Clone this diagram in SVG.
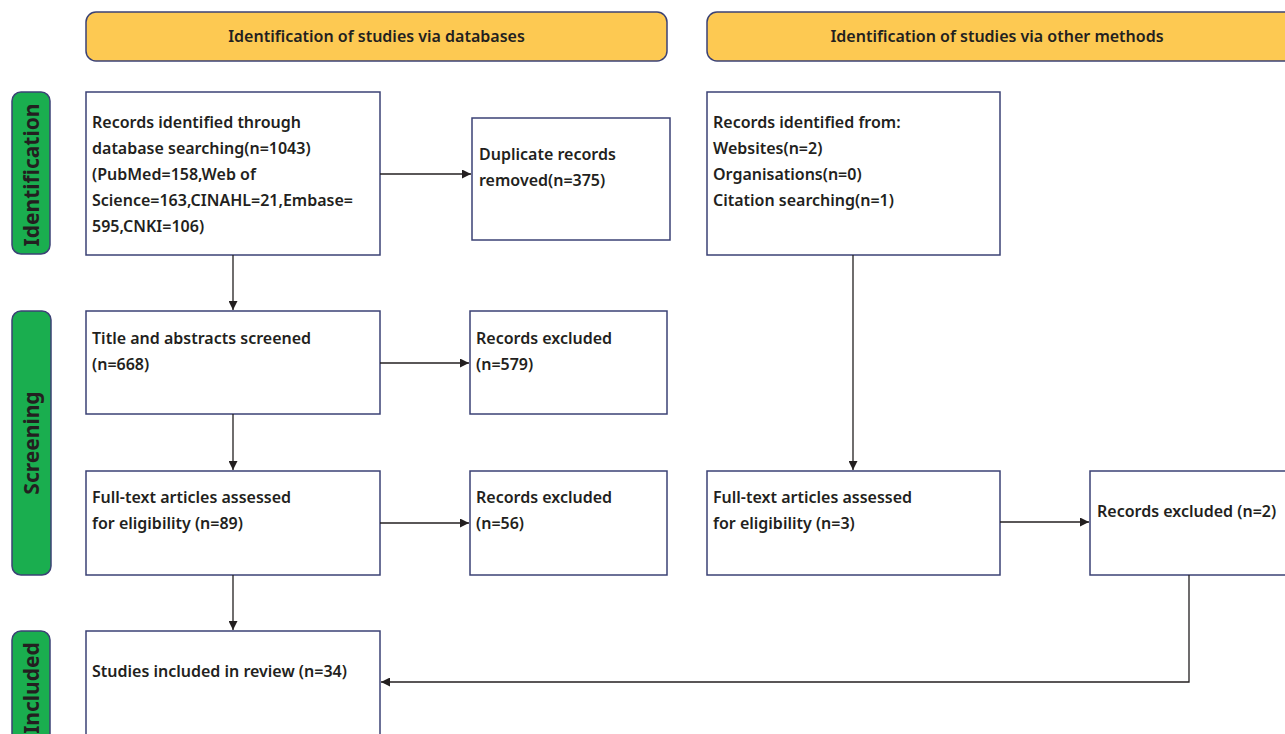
<svg xmlns="http://www.w3.org/2000/svg" width="1285" height="734" viewBox="0 0 1285 734">
<defs>
<marker id="ah" viewBox="0 0 10 10" refX="10" refY="5" markerWidth="9" markerHeight="9" markerUnits="userSpaceOnUse" orient="auto">
<path d="M0,0 L10,5 L0,10 z" fill="#231f20"/>
</marker>
<style>
.box{fill:#fff;stroke:#3b4275;stroke-width:1.5}
.hdr{fill:#fdc952;stroke:#3b4275;stroke-width:1.5}
.side{fill:#1aae4f;stroke:#3b4275;stroke-width:1.5}
.t{font-family:"Noto Sans","Open Sans",sans-serif;font-weight:600;font-size:16px;fill:#231f20}
.h{font-family:"Noto Sans","Open Sans",sans-serif;font-weight:600;font-size:16px;fill:#231f20;text-anchor:middle}
.s{font-family:"Noto Sans","Open Sans",sans-serif;font-weight:700;font-size:21px;fill:#231f20;text-anchor:middle}
.c{fill:none;stroke:#231f20;stroke-width:1.3}
</style>
</defs>
<rect width="1285" height="734" fill="#fff"/>
<g id="hdr-db"><rect class="hdr" x="86" y="12" width="581" height="49" rx="10"/><text class="h" x="376.5" y="42">Identification of studies via databases</text></g>
<g id="hdr-other"><rect class="hdr" x="707" y="12" width="590" height="49" rx="10"/><text class="h" x="997" y="42">Identification of studies via other methods</text></g>
<g id="side-ident"><rect class="side" x="12" y="92" width="38" height="162" rx="9"/><text class="s" transform="translate(39,175) rotate(-90)">Identification</text></g>
<g id="side-screen"><rect class="side" x="12" y="311" width="39" height="264" rx="9"/><text class="s" transform="translate(39,443) rotate(-90)">Screening</text></g>
<g id="side-incl"><rect class="side" x="12" y="631" width="38" height="120" rx="9"/><text class="s" transform="translate(39,688) rotate(-90)">Included</text></g>
<g id="records-db"><rect class="box" x="86" y="92" width="294" height="163"/>
<text class="t" x="92" y="128">Records identified through</text>
<text class="t" x="92" y="154">database searching(n=1043)</text>
<text class="t" x="92" y="180">(PubMed=158,Web of</text>
<text class="t" x="92" y="206">Science=163,CINAHL=21,Embase=</text>
<text class="t" x="92" y="232">595,CNKI=106)</text></g>
<g id="duplicates"><rect class="box" x="472" y="118" width="198" height="122"/>
<text class="t" x="479" y="160">Duplicate records</text>
<text class="t" x="479" y="186">removed(n=375)</text></g>
<g id="records-other"><rect class="box" x="707" y="92" width="293" height="163"/>
<text class="t" x="713" y="128">Records identified from:</text>
<text class="t" x="713" y="154">Websites(n=2)</text>
<text class="t" x="713" y="180">Organisations(n=0)</text>
<text class="t" x="713" y="206">Citation searching(n=1)</text></g>
<g id="screened"><rect class="box" x="86" y="311" width="294" height="103"/>
<text class="t" x="92" y="344">Title and abstracts screened</text>
<text class="t" x="92" y="370">(n=668)</text></g>
<g id="excluded-579"><rect class="box" x="470" y="311" width="197" height="103"/>
<text class="t" x="476" y="344">Records excluded</text>
<text class="t" x="476" y="370">(n=579)</text></g>
<g id="fulltext-db"><rect class="box" x="86" y="471" width="294" height="104"/>
<text class="t" x="92" y="503">Full-text articles assessed</text>
<text class="t" x="92" y="529">for eligibility (n=89)</text></g>
<g id="excluded-56"><rect class="box" x="470" y="471" width="197" height="104"/>
<text class="t" x="476" y="503">Records excluded</text>
<text class="t" x="476" y="529">(n=56)</text></g>
<g id="fulltext-other"><rect class="box" x="707" y="471" width="293" height="104"/>
<text class="t" x="713" y="503">Full-text articles assessed</text>
<text class="t" x="713" y="529">for eligibility (n=3)</text></g>
<g id="excluded-2"><rect class="box" x="1090" y="471" width="210" height="104"/>
<text class="t" x="1097" y="517">Records excluded (n=2)</text></g>
<g id="included"><rect class="box" x="86" y="631" width="294" height="120"/>
<text class="t" x="92" y="677">Studies included in review (n=34)</text></g>
<g id="connectors">
<path class="c" d="M380,174 H471" marker-end="url(#ah)"/>
<path class="c" d="M233,255 V310" marker-end="url(#ah)"/>
<path class="c" d="M380,363 H469" marker-end="url(#ah)"/>
<path class="c" d="M233,414 V470" marker-end="url(#ah)"/>
<path class="c" d="M380,523 H469" marker-end="url(#ah)"/>
<path class="c" d="M233,575 V630" marker-end="url(#ah)"/>
<path class="c" d="M853,255 V470" marker-end="url(#ah)"/>
<path class="c" d="M1000,522 H1089" marker-end="url(#ah)"/>
<path class="c" d="M1189,575 V682 H381" marker-end="url(#ah)"/>
</g>
</svg>
